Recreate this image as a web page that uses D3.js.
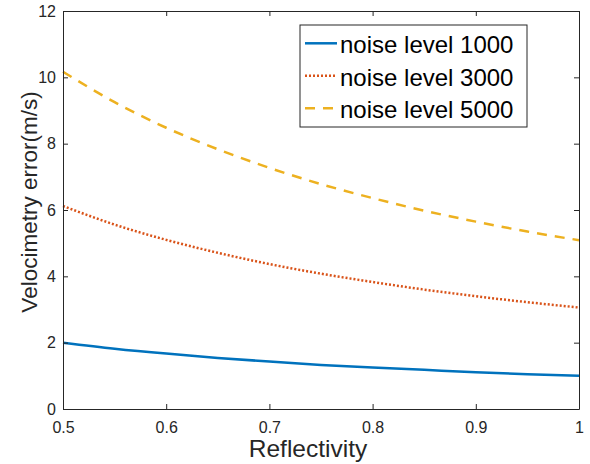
<!DOCTYPE html>
<html>
<head>
<meta charset="utf-8">
<script src="https://cdn.jsdelivr.net/npm/d3@7"></script>
<style>
  body { margin: 0; background: #fff; }
  svg text { font-family: "Liberation Sans", Arial, sans-serif; fill: #262626; }
</style>
</head>
<body>
<div id="chart"></div>
<script>
// data
const reflectivity = [0.5, 0.55, 0.6, 0.65, 0.7, 0.75, 0.8, 0.85, 0.9, 0.95, 1.0];
const noise1000 = [2.0, 1.82, 1.67, 1.54, 1.43, 1.33, 1.25, 1.18, 1.11, 1.05, 1.0];
const noise3000 = [6.12, 5.56, 5.10, 4.71, 4.37, 4.08, 3.83, 3.60, 3.40, 3.22, 3.06];
const noise5000 = [10.17, 9.25, 8.48, 7.83, 7.27, 6.78, 6.36, 5.98, 5.65, 5.35, 5.09];
const seriesNames = ["noise level 1000", "noise level 3000", "noise level 5000"];
const xTicks = [0.5, 0.6, 0.7, 0.8, 0.9, 1];
const yTicks = [0, 2, 4, 6, 8, 10, 12];

const W = 590, H = 464;
const padL = 63, padR = 579, padT = 11, padB = 409;

const svg = d3.select("#chart").append("svg")
    .attr("width", W)
    .attr("height", H);

const x = d3.scaleLinear().domain([0.5, 1]).range([padL, padR]);
const y = d3.scaleLinear().domain([0, 12]).range([padB, padT]);

// lines
const series = [
    { name: seriesNames[0], values: noise1000, color: "#0072BD", dash: null },
    { name: seriesNames[1], values: noise3000, color: "#D95319", dash: "2,2" },
    { name: seriesNames[2], values: noise5000, color: "#EDB120", dash: "10,8" }
];

const line = d3.line()
    .x((d, i) => x(reflectivity[i]))
    .y(d => y(d))
    .curve(d3.curveMonotoneX);

svg.append("g")
    .selectAll("path")
    .data(series)
    .enter()
    .append("path")
    .attr("d", d => line(d.values))
    .attr("fill", "none")
    .attr("stroke", d => d.color)
    .attr("stroke-width", 2.5)
    .attr("stroke-dasharray", d => d.dash);

// axes (ticks inward, box)
const axStyle = g => {
    g.attr("font-family", null);
    g.select(".domain").attr("stroke", "#262626");
    g.selectAll(".tick line").attr("stroke", "#262626");
    g.selectAll(".tick text").style("font-size", "16px").attr("fill", "#262626");
};

svg.append("g")
    .attr("transform", `translate(0,${padB})`)
    .call(d3.axisBottom(x).tickValues(xTicks).tickFormat(d3.format("")).tickSizeInner(-5).tickSizeOuter(0).tickPadding(13))
    .call(axStyle);

svg.append("g")
    .attr("transform", `translate(0,${padT})`)
    .call(d3.axisTop(x).tickValues(xTicks).tickFormat("").tickSizeInner(-5).tickSizeOuter(0))
    .call(axStyle);

svg.append("g")
    .attr("transform", `translate(${padL},0)`)
    .call(d3.axisLeft(y).tickValues(yTicks).tickSizeInner(-5).tickSizeOuter(0).tickPadding(7))
    .call(axStyle);

svg.append("g")
    .attr("transform", `translate(${padR},0)`)
    .call(d3.axisRight(y).tickValues(yTicks).tickFormat("").tickSizeInner(-5).tickSizeOuter(0))
    .call(axStyle);

// axis labels
svg.append("text")
    .text("Reflectivity")
    .attr("x", 308)
    .attr("y", 457)
    .attr("text-anchor", "middle")
    .style("font-size", "24.5px");

svg.append("text")
    .text("Velocimetry error(m/s)")
    .attr("transform", "translate(37, 202) rotate(-90)")
    .attr("text-anchor", "middle")
    .style("font-size", "22.5px");

// legend
const lg = svg.append("g").attr("transform", "translate(300,25)");
lg.append("rect")
    .attr("width", 227)
    .attr("height", 102)
    .attr("fill", "#fff")
    .attr("stroke", "#262626")
    .attr("stroke-width", 1);

const items = lg.selectAll("g.item")
    .data(series)
    .enter()
    .append("g")
    .attr("class", "item")
    .attr("transform", (d, i) => `translate(0,${18.3 + i * 32.5})`);

items.append("line")
    .attr("x1", 5).attr("x2", 37)
    .attr("y1", 0).attr("y2", 0)
    .attr("stroke", d => d.color)
    .attr("stroke-width", 2.5)
    .attr("stroke-dasharray", d => d.dash);

items.append("text")
    .text(d => d.name)
    .attr("x", 40)
    .attr("y", 10)
    .style("font-size", "24px")
    .style("fill", "#000");
</script>
</body>
</html>
